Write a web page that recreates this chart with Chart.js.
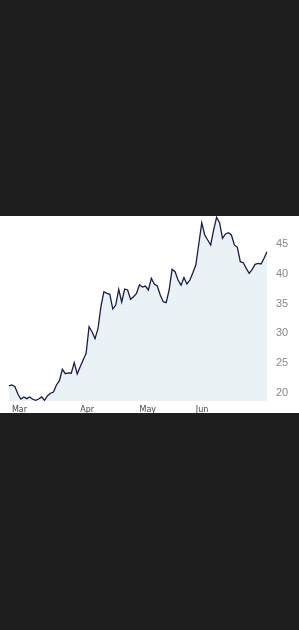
<!DOCTYPE html>
<html>
<head>
<meta charset="utf-8">
<script src="https://cdn.jsdelivr.net/npm/chart.js@4"></script>
<style>
    html, body { margin: 0; padding: 0; background: #1e1e1e; width: 299px; height: 630px; overflow: hidden; }
    .panel { position: absolute; left: 0; top: 216px; width: 299px; height: 197px; background: #fff; }
    canvas { display: block; }
</style>
</head>
<body>
<div class="panel"><canvas id="priceChart" width="299" height="197"></canvas></div>
<script>
// Closing prices, one per trading day
const prices = [
    21.13, 21.30, 21.01, 19.78, 18.94, 19.28, 18.99, 19.28, 18.89, 18.72,
    18.94, 19.28, 18.72, 19.49, 19.90, 20.12, 21.30, 22.02, 23.94, 23.20,
    23.32, 23.27, 25.05, 23.15, 24.38, 25.51, 26.63, 31.11, 30.27, 29.09,
    30.77, 34.48, 37.00, 36.73, 36.57, 34.09, 34.76, 37.41, 35.27, 37.46,
    37.29, 35.72, 36.16, 36.73, 38.18, 37.79, 37.96, 37.29, 39.26, 38.30,
    37.96, 36.45, 35.32, 35.15, 37.29, 40.77, 40.37, 38.97, 38.08, 39.36,
    38.30, 38.97, 40.20, 41.50, 45.03, 48.62, 46.55, 45.71, 44.87, 47.39,
    49.53, 48.62, 46.00, 46.72, 46.94, 46.55, 44.87, 44.48, 42.05, 41.89,
    40.94, 40.10, 40.77, 41.62, 41.78, 41.67, 42.63, 43.74
];

// Month labels and the day index where each month starts
const monthNames = ['Mar', 'Apr', 'May', 'Jun'];
const monthIdx = [1, 24, 44, 63];

// Right-hand axis ticks
const yTicks = [20, 25, 30, 35, 40, 45];

const xLabels = prices.map((p, i) => {
    const m = monthIdx.indexOf(i);
    return m >= 0 ? monthNames[m] : '';
});

const ctx = document.getElementById('priceChart').getContext('2d');
const chart = new Chart(ctx, {
    type: 'line',
    data: {
        labels: xLabels,
        datasets: [{
            data: prices,
            borderColor: '#1b1b48',
            borderWidth: 1.3,
            backgroundColor: '#eaf2f5',
            fill: 'start',
            pointRadius: 0,
            tension: 0
        }]
    },
    options: {
        responsive: false,
        animation: false,
        devicePixelRatio: 1,
        layout: { padding: { left: 9, right: 0, top: 0, bottom: 0 } },
        plugins: {
            legend: { display: false },
            tooltip: { enabled: false }
        },
        scales: {
            x: {
                type: 'category',
                grid: { display: false, drawTicks: false },
                border: { display: false },
                ticks: {
                    autoSkip: false,
                    maxRotation: 0,
                    minRotation: 0,
                    align: 'start',
                    padding: 4,
                    color: '#444',
                    font: { family: 'DejaVu Sans', size: 8 }
                },
                afterFit: (scale) => {
                    scale.height = 12;
                    scale.paddingLeft = 0;
                    scale.paddingRight = 0;
                }
            },
            y: {
                position: 'right',
                min: 18.6,
                max: 49.75,
                grid: { display: false, drawTicks: false },
                border: { display: false },
                ticks: {
                    padding: 9,
                    color: '#888',
                    font: { family: 'Liberation Sans', size: 11 }
                },
                afterBuildTicks: (scale) => { scale.ticks = yTicks.map(v => ({ value: v })); },
                afterFit: (scale) => {
                    scale.width = 32;
                    scale.paddingTop = 0;
                    scale.paddingBottom = 0;
                }
            }
        }
    }
});
</script>
</body>
</html>
